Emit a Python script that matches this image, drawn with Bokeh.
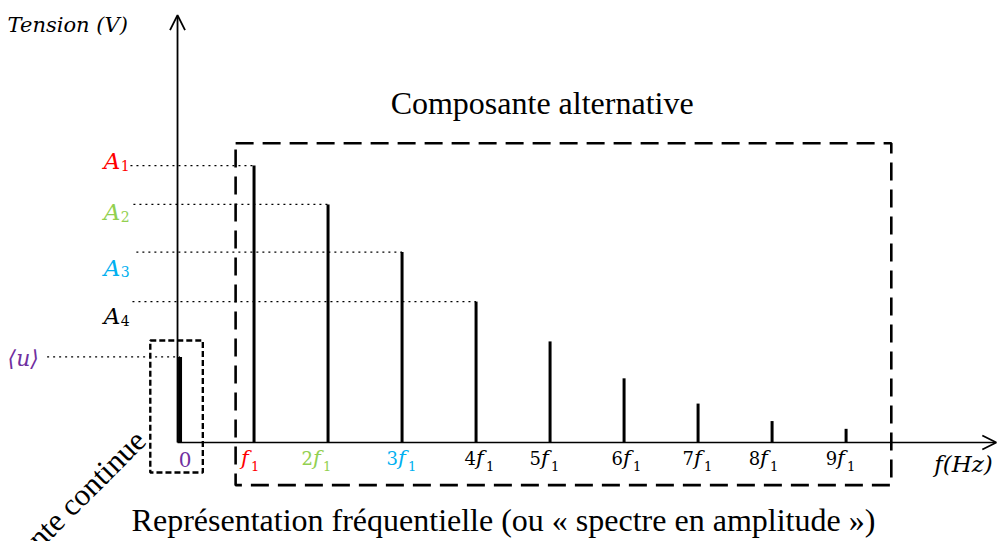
from bokeh.plotting import figure
from bokeh.models import Range1d, Arrow, OpenHead
from bokeh.core.properties import value
from bokeh.embed import file_html
from bokeh.resources import INLINE

# ---- data ----
harmonics = [0, 1, 2, 3, 4, 5, 6, 7, 8, 9]          # multiples of f1
amplitudes = [8.8, 28.5, 24.5, 19.6, 14.5, 10.4, 6.6, 4.0, 2.2, 1.4]  # volts (arbitrary units)
tick_prefix = ["", "", "2", "3", "4", "5", "6", "7", "8", "9"]
tick_colors = ["#7030A0", "#FF0000", "#92D050", "#00B0F0", "black", "black", "black", "black", "black", "black"]
amp_labels = ["A", "A", "A", "A"]
amp_subs = ["1", "2", "3", "4"]
amp_colors = ["#FF0000", "#92D050", "#00B0F0", "black"]

SERIF = value("Liberation Serif")
MATH = value("DejaVu Serif")

p = figure(width=997, height=541, x_range=Range1d(-2.426, 11.046), y_range=Range1d(-10.2, 45.5),
           output_backend="svg", toolbar_location=None, min_border=0,
           x_axis_location=None, y_axis_location=None)
p.grid.visible = False
p.outline_line_color = None
p.background_fill_color = "white"

# axes with arrows
p.add_layout(Arrow(end=OpenHead(size=15, line_width=1.8), x_start=-0.034, y_start=0, x_end=-0.034, y_end=44.0,
                   line_width=1.8))
p.add_layout(Arrow(end=OpenHead(size=14, line_width=1.8), x_start=-0.034, y_start=0, x_end=11.03, y_end=0,
                   line_width=1.6))

# dashed boxes
p.quad(left=[-0.402], right=[0.308], top=[10.5], bottom=[-3.1], fill_alpha=0,
       line_color="black", line_width=2.4, line_dash="6 3")
p.quad(left=[0.751], right=[9.611], top=[30.8], bottom=[-4.4], fill_alpha=0,
       line_color="black", line_width=2.6, line_dash="18 9")

# dotted reference lines for amplitudes
dot_start = [-0.670, -0.630, -0.590, -0.643]
p.segment(x0=dot_start, y0=amplitudes[1:5], x1=harmonics[1:5], y1=amplitudes[1:5],
          line_color="black", line_width=1.2, line_dash="2 4")
p.segment(x0=[-1.796], y0=[amplitudes[0]], x1=[harmonics[0]], y1=[amplitudes[0]],
          line_color="black", line_width=1.2, line_dash="2 4")

# spectral lines
widths = [4] + [3] * 9
p.segment(x0=harmonics, y0=[0] * len(harmonics), x1=harmonics, y1=amplitudes,
          line_color="black", line_width=widths)

# amplitude labels
a_base = [29.0, 23.7, 18.0, 13.0]
p.text(x=[-1.03] * 4, y=a_base, text=amp_labels, text_color=amp_colors, text_font=MATH,
       text_font_style="italic", text_font_size="23px", text_baseline="alphabetic", text_align="left")
p.text(x=[-0.80] * 4, y=[b - 0.45 for b in a_base], text=amp_subs, text_color=amp_colors, text_font=MATH,
       text_font_size="14px", text_baseline="alphabetic", text_align="left")

# <u>
p.text(x=[-2.33], y=[8.6], text=["⟨u⟩"], text_color="#7030A0", text_font=MATH, text_font_style="italic",
       text_font_size="22px", text_baseline="middle", text_align="left")

# "0" tick
p.text(x=[0.067], y=[-1.8], text=["0"], text_color=tick_colors[0], text_font=MATH,
       text_font_size="20px", text_baseline="middle", text_align="center")

# harmonic tick labels: digit + italic f + subscript 1
label_off = [0, -4, -12, -1, 3, -6, 2, -1, -9, -6]
hx = harmonics[1:]
offs = label_off[1:]
dig_off = [o - 3 for o in offs]
f_off = [(o - 9) if pre == "" else (o - 3) for o, pre in zip(offs, tick_prefix[1:])]
s_off = [(o + 1) if pre == "" else (o + 7) for o, pre in zip(offs, tick_prefix[1:])]
p.text(x=hx, y=[-1.6] * 9, text=tick_prefix[1:], x_offset=dig_off, text_color=tick_colors[1:],
       text_font=MATH, text_font_size="18px", text_baseline="middle", text_align="right")
p.text(x=hx, y=[-1.6] * 9, text=["f"] * 9, x_offset=f_off, text_color=tick_colors[1:],
       text_font=MATH, text_font_style="italic", text_font_size="21px", text_baseline="middle", text_align="left")
p.text(x=hx, y=[-2.4] * 9, text=["1"] * 9, x_offset=s_off, text_color=tick_colors[1:],
       text_font=MATH, text_font_size="13px", text_baseline="middle", text_align="left")

# axis titles
p.text(x=[-2.33], y=[43.0], text=["Tension (V)"], text_font=MATH, text_font_style="italic",
       text_font_size="21px", text_baseline="middle", text_align="left", text_color="black")
p.text(x=[10.19], y=[-2.2], text=["f(Hz)"], text_font=MATH, text_font_style="italic",
       text_font_size="23px", text_baseline="middle", text_align="left", text_color="black")

# captions
p.text(x=[4.893], y=[34.9], text=["Composante alternative"], text_font=SERIF, text_font_size="32px",
       text_baseline="middle", text_align="center", text_color="black")
p.text(x=[4.370], y=[-8.0], text=["Représentation fréquentielle (ou « spectre en amplitude »)"], text_font=SERIF,
       text_font_size="32px", text_baseline="middle", text_align="center", text_color="black")
p.text(x=[-0.536], y=[0.74], text=["Composante continue"], text_font=SERIF, text_font_size="31px",
       angle=0.785, text_baseline="alphabetic", text_align="right", text_color="black")

open("out.html", "w").write(file_html(p, INLINE))
